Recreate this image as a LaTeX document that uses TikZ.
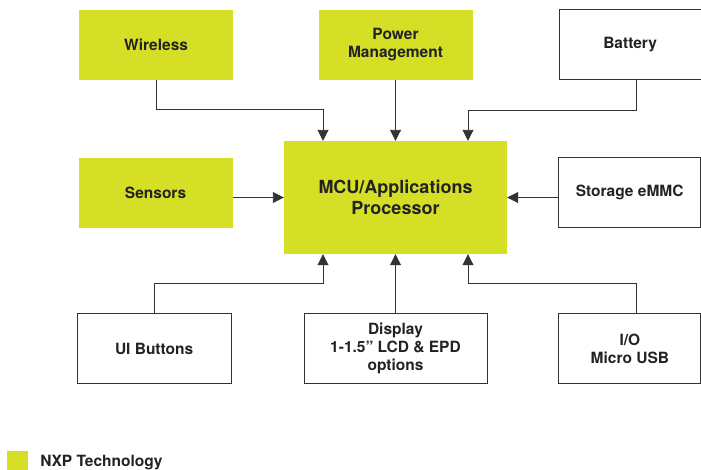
\documentclass[tikz,border=0pt]{standalone}
\usepackage{fontspec}
\setmainfont{TeX Gyre Heros}
\usepackage{tikz}
\usetikzlibrary{arrows.meta,positioning,calc}

\definecolor{nxpgreen}{RGB}{212,223,38}
\definecolor{linegray}{RGB}{51,51,51}
\definecolor{textgray}{RGB}{34,34,34}

\begin{document}
\begin{tikzpicture}[
    x=1pt, y=-1pt,
    >={Triangle[length=11pt,width=11pt]},
    block/.style={rectangle, minimum width=154pt, minimum height=70pt, inner sep=0pt, align=center, text=textgray, font=\fontsize{15.5}{17.8}\selectfont\bfseries},
    nxp/.style={block, fill=nxpgreen},
    plain/.style={block, draw=linegray, line width=0.9pt},
    link/.style={->, draw=linegray, line width=0.9pt}
]
    \useasboundingbox (0,0) rectangle (701,469);

    \node[nxp, minimum width=223pt, minimum height=113pt, font=\fontsize{18}{21.5}\selectfont\bfseries] (mcu) at (395.5,197.5) {MCU/Applications\\Processor};

    \node[nxp, above=61pt of mcu] (power) {Power\\Management};
    \node[nxp, left=85pt of power] (wireless) {Wireless};
    \node[plain, right=86pt of power, minimum width=142pt] (battery) {Battery};

    \node[nxp, left=51pt of mcu, yshift=5pt] (sensors) {Sensors};
    \node[plain, right=51pt of mcu, yshift=5pt, minimum width=142pt] (storage) {Storage eMMC};

    \node[plain, below=59pt of mcu, minimum width=183pt] (display) {Display\\1-1.5'' LCD \& EPD\\options};
    \node[plain, left=72pt of display] (buttons) {UI Buttons};
    \node[plain, right=71pt of display, minimum width=142pt] (io) {I/O\\Micro USB};

    % legend
    \node[rectangle, fill=nxpgreen, minimum size=21pt, inner sep=0pt] (key) at (17.5,461.5) {};
    \node[right=12pt of key, yshift=-1.5pt, inner sep=0pt, text=textgray, font=\fontsize{15.5}{17.8}\selectfont\bfseries] (keytext) {NXP Technology};

    % links into the processor
    \draw[link] (wireless.south) -- ++(0,30) -| ([xshift=-72.5pt]mcu.north);
    \draw[link] (power) -- (mcu);
    \draw[link] ([xshift=6.5pt]battery.south) -- ++(0,30) -| ([xshift=72.5pt]mcu.north);
    \draw[link] (sensors.east |- mcu.west) -- (mcu.west);
    \draw[link] (storage.west |- mcu.east) -- (mcu.east);
    \draw[link] (buttons.north) -- ++(0,-30) -| ([xshift=-72.5pt]mcu.south);
    \draw[link] (display) -- (mcu);
    \draw[link] ([xshift=6.5pt]io.north) -- ++(0,-30) -| ([xshift=72.5pt]mcu.south);
\end{tikzpicture}
\end{document}
